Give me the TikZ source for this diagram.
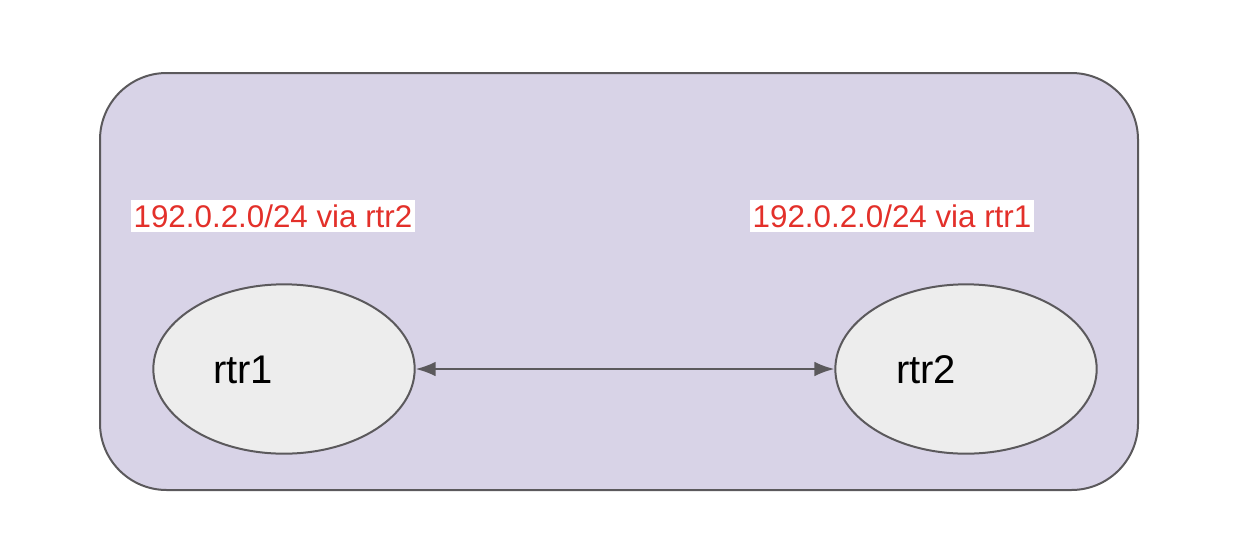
\documentclass[tikz,border=0pt]{standalone}
\usepackage{fontspec}
\setmainfont{Liberation Sans}
\usetikzlibrary{shapes.geometric,arrows.meta}
\definecolor{boxfill}{HTML}{D8D3E7}
\definecolor{edge}{HTML}{5B595C}
\definecolor{nodefill}{HTML}{EDEDED}
\definecolor{routecol}{HTML}{E3302A}
\tikzset{
  router/.style={ellipse, draw=edge, line width=1.5pt, fill=nodefill,
    minimum width=196pt, minimum height=127pt, inner sep=0pt},
  routername/.style={font=\fontsize{30}{33}\selectfont, text=black, inner sep=0pt},
  route/.style={fill=white, text=routecol, font=\fontsize{23.5}{27}\selectfont,
    inner xsep=2pt, inner ysep=3pt},
  link/.style={draw=edge, line width=1.5pt, {Latex[length=15pt,width=11pt]}-{Latex[length=15pt,width=11pt]}}
}
\begin{document}
\begin{tikzpicture}[x=0.75pt,y=-0.75pt]
\useasboundingbox (0,0) rectangle (1248,550);
% enclosing group
\draw[fill=boxfill, draw=edge, line width=1.5pt, rounded corners=50pt]
  (100,73) rectangle (1138,490);
% routers
\node[router] (r1) at (284,369) {};
\node[router] (r2) at (966,369) {};
\node[routername] (r1name) at (243,370) {rtr1};
\node[routername] (r2name) at (926,370) {rtr2};
% routes
\node[route] (route1) at (273,216) {192.0.2.0/24 via rtr2};
\node[route] (route2) at (892,216) {192.0.2.0/24 via rtr1};
% link
\draw[link] (r1.east) -- (r2.west);
\end{tikzpicture}
\end{document}
